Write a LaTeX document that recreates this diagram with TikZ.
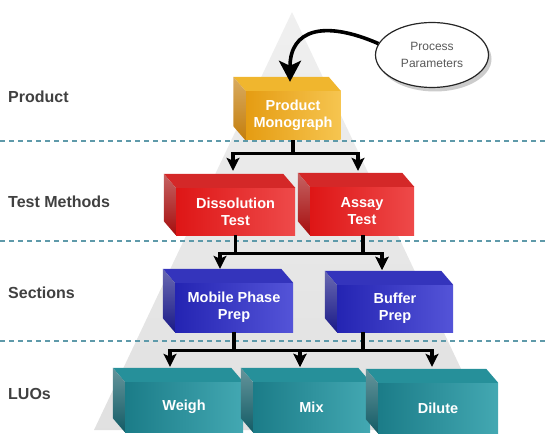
\documentclass[tikz,border=0pt]{standalone}
\usepackage{fontspec}
\setmainfont{Liberation Sans}
\usepackage{xcolor}
\usetikzlibrary{arrows.meta, positioning, calc, shapes.geometric, shadows}

\definecolor{goldfront}{HTML}{E59C12}
\definecolor{goldlight}{HTML}{F6C550}
\definecolor{goldtop}{HTML}{F0B62E}
\definecolor{goldhi}{HTML}{FBE2A0}
\definecolor{goldside}{HTML}{C47E0C}
\definecolor{redfront}{HTML}{DE1616}
\definecolor{redlight}{HTML}{EE4A4A}
\definecolor{redtop}{HTML}{D42828}
\definecolor{redhi}{HTML}{E8869A}
\definecolor{redside}{HTML}{A60E0E}
\definecolor{bluefront}{HTML}{2424B2}
\definecolor{bluelight}{HTML}{5454D8}
\definecolor{bluetop}{HTML}{3434BC}
\definecolor{bluehi}{HTML}{8C8CE4}
\definecolor{blueside}{HTML}{1A1A88}
\definecolor{tealfront}{HTML}{1B7C88}
\definecolor{teallight}{HTML}{43A8B2}
\definecolor{tealtop}{HTML}{26909A}
\definecolor{tealhi}{HTML}{86CCD2}
\definecolor{tealside}{HTML}{135C66}
\definecolor{sepblue}{HTML}{5E9AAA}
\definecolor{tiergray}{HTML}{404040}

% top and left faces of a box whose front face is node #1
\newcommand{\cubefaces}[2]{%
  \shade[left color=#2top, middle color=#2hi, right color=#2top]
    (#1.north west) -- ++(-12,-14) -- ([shift={(-12,-14)}]#1.north east)
    -- (#1.north east) -- cycle;
  \shade[top color=#2side!65!white, bottom color=#2side]
    (#1.north west) -- ++(-12,-14) -- ([shift={(-12,-14)}]#1.south west)
    -- (#1.south west) -- cycle;
}

\begin{document}
\begin{tikzpicture}[x=1pt, y=-1pt,
    cube/.style={inner sep=0pt, align=center, text=white,
      font=\bfseries\fontsize{14.5}{17}\selectfont},
    goldbox/.style={cube, left color=goldfront, middle color=goldfront, right color=goldlight},
    redbox/.style={cube, left color=redfront, middle color=redfront, right color=redlight},
    bluebox/.style={cube, left color=bluefront, middle color=bluefront, right color=bluelight},
    tealbox/.style={cube, left color=tealfront, middle color=tealfront, right color=teallight},
    tier/.style={anchor=west, inner sep=0pt, text=tiergray,
      font=\bfseries\fontsize{16}{19}\selectfont},
    divider/.style={draw=sepblue, line width=1.6pt, dash pattern=on 5pt off 4pt},
    link/.style={line width=3.2pt, -{Stealth[length=13pt, width=13pt, inset=3pt]}}
  ]
  \useasboundingbox (0,0) rectangle (548,438);

  % Pyramid
  \shade[top color=gray!12, bottom color=gray!24] (292,12) -- (490,430) -- (94,430) -- cycle;

  % Dividers
  \draw[divider] (0,141) -- (548,141);
  \draw[divider] (0,241) -- (548,241);
  \draw[divider] (0,341) -- (548,341);

  % Tier labels
  \node[tier] (lprod) at (8,97) {Product};
  \node[tier] (ltest) at (8,202) {Test Methods};
  \node[tier] (lsec) at (8,293) {Sections};
  \node[tier] (lluo) at (8,394) {LUOs};

  % Product
  \node[goldbox, minimum width=95pt, minimum height=49pt] (mono) at (293,115.5) {Product\\Monograph};
  \cubefaces{mono}{gold}

  % Test methods
  \node[redbox, minimum width=119pt, minimum height=47pt] (dis) at (235.5,211.5) {Dissolution\\Test};
  \cubefaces{dis}{red}
  \node[redbox, minimum width=104pt, minimum height=48pt] (assay) at (362,211) {Assay\\Test};
  \cubefaces{assay}{red}

  % Sections
  \node[bluebox, minimum width=118pt, minimum height=49pt] (mob) at (234,307.5) {Mobile Phase\\Prep};
  \cubefaces{mob}{blue}
  \node[bluebox, minimum width=116pt, minimum height=47pt] (buf) at (395,308.5) {Buffer\\Prep};
  \cubefaces{buf}{blue}

  % LUOs
  \node[tealbox, minimum width=118pt, minimum height=50pt] (weigh) at (184,407) {Weigh};
  \cubefaces{weigh}{teal}
  \node[tealbox, minimum width=117pt, minimum height=50pt] (mix) at (311.5,407) {Mix};
  \cubefaces{mix}{teal}
  \node[tealbox, minimum width=120pt, minimum height=50pt] (dil) at (438,408) {Dilute};
  \cubefaces{dil}{teal}

  % Process parameters
  \node[ellipse, draw=black!85, line width=1.2pt, fill=white, inner sep=0pt,
    minimum width=113pt, minimum height=65pt, align=center, text=black!65,
    font=\fontsize{12}{17}\selectfont,
    drop shadow={shadow xshift=3pt, shadow yshift=-4pt, fill=black, opacity=0.2}]
    (pp) at (432,55) {Process\\Parameters};
  \coordinate (ptip) at ([shift={(-3,-9)}]mono.north);
  \draw[line width=3.6pt, -{Stealth[length=21pt, width=22pt, inset=5pt]}]
    (pp.168) .. controls +(-55,-24) and +(0,-52) .. (ptip);

  % Arrow ends on the top faces
  \coordinate (tdis) at ([shift={(-2.5,-17)}]dis.north);
  \coordinate (tass) at ([shift={(-4,-16)}]assay.north);
  \coordinate (tmob) at ([shift={(-14,-14)}]mob.north);
  \coordinate (tbuf) at ([shift={(-13,-15)}]buf.north);
  \coordinate (twei) at ([shift={(-14,-15)}]weigh.north);
  \coordinate (tmix) at ([shift={(-11.5,-15)}]mix.north);
  \coordinate (tdil) at ([shift={(-6,-16)}]dil.north);

  % Product -> test methods
  \draw[link] (mono.south) -- ++(0,13) -| (tdis);
  \draw[link] (mono.south) -- ++(0,13) -| (tass);

  % Test methods -> sections
  \draw[link] (dis.south) -- ++(0,18) -| (tmob);
  \draw[link] (dis.south) -- ++(0,18) -| (tbuf);
  \draw[link] ([shift={(1,0)}]assay.south) -- ++(0,18) -| (tbuf);

  % Sections -> LUOs
  \draw[link] (mob.south) -- ++(0,18) -| (twei);
  \draw[link] (mob.south) -- ++(0,18) -| (tmix);
  \draw[link] ([shift={(-32,0)}]buf.south) -- ++(0,18) -| (tmix);
  \draw[link] ([shift={(-32,0)}]buf.south) -- ++(0,18) -| (tdil);
\end{tikzpicture}
\end{document}
